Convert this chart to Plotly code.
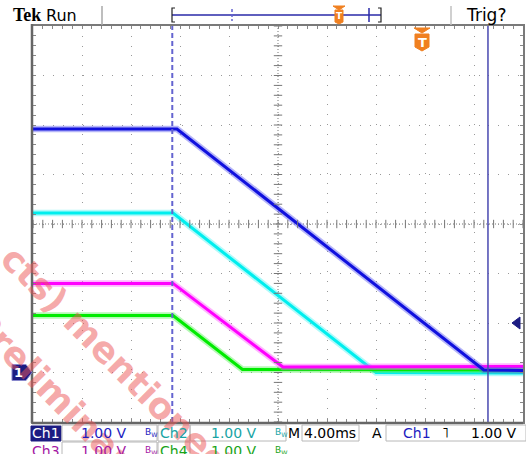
import numpy as np
import plotly.graph_objects as go

# ---------------- data (time in ms, level in V above each channel's ground) ----------------
ch1_t = [0.0, 11.75, 36.8, 40.0]
ch1_v = [4.92, 4.92, 0.05, 0.04]
ch2_t = [0.0, 11.43, 28.0, 40.0]
ch2_v = [3.22, 3.22, 0.0, -0.01]
ch3_t = [0.0, 11.43, 20.4, 40.0]
ch3_v = [1.80, 1.80, 0.11, 0.12]
ch4_t = [0.0, 11.43, 17.1, 40.0]
ch4_v = [1.15, 1.15, 0.06, 0.05]

ground_div = -3.0           # channel ground position (divisions from centre)
trigger_time = 11.37        # dashed trigger-position line (ms)
cursor_time = 37.14         # solid vertical cursor (ms)
trigger_level = 1.0         # V
time_per_div = 4.0          # ms/div
volt_labels = ["1.00 V", "1.00 V", "1.00 V", "1.00 V"]

W, H = 526, 454
def px(x):
    return x / W
def py(y):
    return 1 - y / H

X0, X1, Y0, Y1 = 33, 523, 26, 422
xr = [0, 10 * time_per_div]
yr = [-4.0, 4.0]

C1 = "rgb(16,16,222)"
C2 = "rgb(0,238,238)"
C3 = "rgb(255,0,255)"
C4 = "rgb(0,235,0)"
H1 = "rgba(90,90,240,0.45)"
H2 = "rgba(80,245,245,0.45)"
H3 = "rgba(255,90,255,0.45)"
H4 = "rgba(90,240,90,0.45)"
NAVY = "#1c1c82"

fig = go.Figure()
for t, v, c, h in [(ch2_t, ch2_v, C2, H2), (ch4_t, ch4_v, C4, H4),
                   (ch3_t, ch3_v, C3, H3), (ch1_t, ch1_v, C1, H1)]:
    yy = [a + ground_div for a in v]
    fig.add_trace(go.Scatter(x=t, y=yy, mode="lines", line=dict(color=h, width=6.5),
                             hoverinfo="skip"))
    fig.add_trace(go.Scatter(x=t, y=yy, mode="lines", line=dict(color=c, width=3),
                             hoverinfo="skip"))

# centre-line ticks
cx = (xr[0] + xr[1]) / 2
cy = (yr[0] + yr[1]) / 2
xt = np.arange(xr[0], xr[1] + 0.01, time_per_div / 5)
yt = np.arange(yr[0], yr[1] + 0.01, 0.2)
fig.add_trace(go.Scatter(x=xt, y=[cy] * len(xt), mode="markers",
                         marker=dict(symbol="line-ns", size=6, line=dict(color="#777", width=1)),
                         hoverinfo="skip"))
fig.add_trace(go.Scatter(x=[cx] * len(yt), y=yt, mode="markers",
                         marker=dict(symbol="line-ew", size=6, line=dict(color="#777", width=1)),
                         hoverinfo="skip"))

shapes = []
shapes.append(dict(type="line", xref="x", yref="y", x0=cx, x1=cx, y0=yr[0], y1=yr[1],
                   line=dict(color="#777", width=1, dash="1px,2px"), layer="below"))
shapes.append(dict(type="line", xref="x", yref="y", x0=xr[0], x1=xr[1], y0=cy, y1=cy,
                   line=dict(color="#777", width=1, dash="1px,2px"), layer="below"))
shapes.append(dict(type="line", xref="x", yref="y", x0=trigger_time, x1=trigger_time,
                   y0=yr[0], y1=yr[1], line=dict(color="#6464d0", width=2, dash="5px,3px")))
shapes.append(dict(type="line", xref="x", yref="y", x0=cursor_time, x1=cursor_time,
                   y0=yr[0], y1=yr[1], line=dict(color="#4848b0", width=1.5)))

def poly(pts, fill, line=None):
    p = "M " + " L ".join(f"{px(a):.5f},{py(b):.5f}" for a, b in pts) + " Z"
    return dict(type="path", xref="paper", yref="paper", path=p, fillcolor=fill,
                line=dict(color=line or fill, width=1))

def seg(x0, y0, x1, y1, color, width=1, dash=None):
    d = dict(color=color, width=width)
    if dash:
        d["dash"] = dash
    return dict(type="line", xref="paper", yref="paper", x0=px(x0), y0=py(y0),
                x1=px(x1), y1=py(y1), line=d)

# darker left/bottom frame
shapes.append(seg(32, 24, 32, 423, "#666", 2.5))
shapes.append(seg(32, 423, 523, 423, "#666", 2.5))

# top bar
shapes.append(seg(102, 6, 102, 25, "#a8a8a8", 1.5))
shapes.append(seg(451, 6, 451, 25, "#c0c0c0", 1.5))
shapes.append(seg(172, 15, 381, 15, "#2a2aa8", 1.5))
shapes.append(dict(type="path", xref="paper", yref="paper",
                   path=f"M {px(175)},{py(8)} L {px(172)},{py(8)} L {px(172)},{py(22)} L {px(175)},{py(22)}",
                   line=dict(color="#222", width=1.2)))
shapes.append(dict(type="path", xref="paper", yref="paper",
                   path=f"M {px(378)},{py(8)} L {px(381)},{py(8)} L {px(381)},{py(22)} L {px(378)},{py(22)}",
                   line=dict(color="#222", width=1.2)))
shapes.append(seg(232, 9, 232, 21, "#6464d0", 1.5, "3px,2px"))
shapes.append(seg(369, 8, 369, 22, "#2a2aa8", 1.5))
shapes.append(poly([(333, 6), (345, 6), (339, 10)], "#f08020"))
shapes.append(poly([(335, 10), (343, 10), (343, 22), (339, 24), (335, 22)], "#f08020"))
# orange trigger marker in graticule
shapes.append(poly([(414, 28), (430, 28), (422, 33)], "#f08020"))
shapes.append(poly([(415, 34), (429, 34), (429, 47), (422, 51), (415, 47)], "#f08020"))
# ch1 ground marker
gy = Y1 - (ground_div - yr[0]) / (yr[1] - yr[0]) * (Y1 - Y0)
shapes.append(poly([(12, gy - 8), (26, gy - 8), (32, gy), (26, gy + 8), (12, gy + 8)], NAVY, "#8888cc"))
# trigger level marker on right
tl_y = Y1 - (trigger_level + ground_div - yr[0]) / (yr[1] - yr[0]) * (Y1 - Y0)
shapes.append(poly([(512, tl_y), (520, tl_y - 6), (520, tl_y + 6)], NAVY))

def box(x0, y0, x1, y1, fill=None, line="#b8b8b8"):
    return dict(type="rect", xref="paper", yref="paper", x0=px(x0), y0=py(y0),
                x1=px(x1), y1=py(y1), fillcolor=fill or "rgba(0,0,0,0)",
                line=dict(color=line, width=1))
shapes.append(box(31, 426, 61, 441, NAVY, NAVY))
for (a, b) in [(62, 157), (158, 190), (190, 286), (302, 359), (386, 526)]:
    shapes.append(box(a, 425, b, 441))
for (a, b) in [(62, 157), (158, 190)]:
    shapes.append(box(a, 442, b, 460))

ann = []
def txt(x, y, s, color="#000", size=14, family="DejaVu Sans", bold=False, **kw):
    if bold:
        s = f"<b>{s}</b>"
    ann.append(dict(x=px(x), y=py(y), xref="paper", yref="paper", text=s, showarrow=False,
                    font=dict(color=color, size=size, family=family),
                    xanchor="center", yanchor="middle", **kw))

# watermark
WM = "rgba(236,85,85,0.5)"
txt(116, 360, "cts) mentioned", WM, 36, bold=True, textangle=45)
txt(60, 398, "Preliminary", WM, 36, bold=True, textangle=45)

txt(27, 15, "Tek", "#000", 18, "Liberation Serif", True)
txt(61, 15, "Run", "#000", 16)
txt(486, 15, "Trig?", "#000", 17)
txt(339, 16, "T", "#fff", 9, bold=True)
txt(422, 42, "T", "#fff", 13, bold=True)
txt(19, gy, "1", "#fff", 13, bold=True)

txt(46, 433, "Ch1", "#fff", 14)
txt(104, 433, volt_labels[0], "#1c1cc0", 14)
txt(151, 432, "B<sub>W</sub>", "#1c1cc0", 9)
txt(174, 433, "Ch2", "#18a4a4", 14)
txt(234, 433, volt_labels[1], "#18a4a4", 14)
txt(281, 432, "B<sub>W</sub>", "#18a4a4", 9)
txt(294, 433, "M", "#000", 14)
txt(330, 433, f"{time_per_div:.2f}ms", "#000", 14)
txt(377, 433, "A", "#000", 14)
txt(417, 433, "Ch1", "#1c1cc0", 14)
txt(445, 433, "˥", "#000", 14)
txt(494, 433, f"{trigger_level:.2f} V", "#000", 14)
txt(46, 451, "Ch3", "#a418a4", 14)
txt(104, 451, volt_labels[2], "#a418a4", 14)
txt(151, 450, "B<sub>W</sub>", "#a418a4", 9)
txt(174, 451, "Ch4", "#18a418", 14)
txt(234, 451, volt_labels[3], "#18a418", 14)
txt(281, 450, "B<sub>W</sub>", "#18a418", 9)

axis_common = dict(showline=True, mirror="ticks", linecolor="#7a7a7a", linewidth=2,
                   ticks="inside", ticklen=3, tickcolor="#888", showticklabels=False,
                   showgrid=True, gridcolor="#999", gridwidth=1, zeroline=False,
                   fixedrange=True)
fig.update_layout(
    width=W, height=H, margin=dict(l=0, r=0, t=0, b=0),
    paper_bgcolor="white", plot_bgcolor="white", showlegend=False,
    xaxis=dict(range=xr, domain=[px(X0), px(X1)], dtick=time_per_div, tick0=0,
               griddash="1px,8.8px",
               minor=dict(dtick=time_per_div / 5, ticks="inside", ticklen=3,
                          tickcolor="#888", showgrid=False), **axis_common),
    yaxis=dict(range=yr, domain=[py(Y1), py(Y0)], dtick=1, tick0=yr[0],
               griddash="1px,8.9px",
               minor=dict(dtick=0.2, ticks="inside", ticklen=3, tickcolor="#888",
                          showgrid=False), **axis_common),
    shapes=shapes, annotations=ann,
)
fig.write_html("out.html", config={"displayModeBar": False},
               post_script="document.body.style.margin='0px';document.body.style.padding='0px';")
